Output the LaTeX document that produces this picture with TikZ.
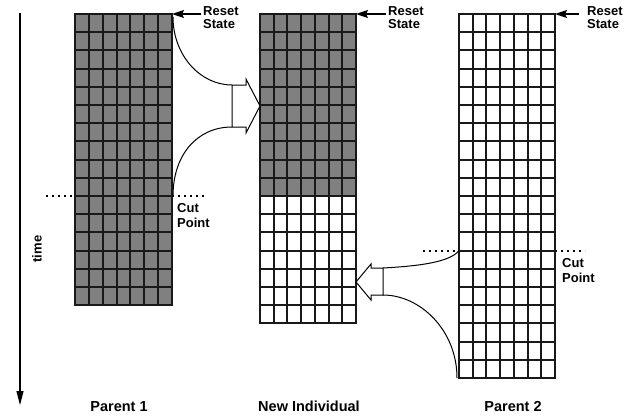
\documentclass[tikz,border=0pt]{standalone}
\usepackage{fontspec}
\setmainfont{Liberation Sans}
\usetikzlibrary{arrows.meta,calc}
\begin{document}
\begin{tikzpicture}[x=1pt,y=-1pt,
  lab/.style={font=\bfseries\fontsize{13}{13}\selectfont, inner sep=0pt, anchor=base west},
  bot/.style={font=\bfseries\fontsize{14.5}{14.5}\selectfont, inner sep=0pt, anchor=base},
  gl/.style={draw=black!90, line width=1.9pt, line cap=rect},
  cutline/.style={line width=2pt, dash pattern=on 2pt off 4pt},
  conn/.style={line width=1pt},
  blk/.style={draw, line width=1pt, fill=white, line join=miter},
  rarrow/.style={line width=1.2pt, -{Stealth[length=12pt,width=8pt,inset=2pt]}},
  panel/.style={inner sep=0pt, outer sep=0pt, draw=none},
]
\useasboundingbox (0,0) rectangle (639,418);

% panels (named frames of the three chromosomes)
\node[panel, minimum width=97pt, minimum height=291.2pt] (p1) at (123.5,159.6) {};
\node[panel, minimum width=96pt, minimum height=309.4pt] (ni) at (308,168.7) {};
\node[panel, minimum width=96pt, minimum height=364pt] (p2) at (507,196) {};

\coordinate (p1cut) at (172,196);
\coordinate (p2cut) at (459,250.6);

% cut lines
\draw[cutline] (46,196) -- (205,196);
\draw[cutline] (423,250.6) -- (585,250.6);

% fills
\fill[gray] (75,14) rectangle (172,305.2);
\fill[gray] (260,14) rectangle (356,196);
\fill[white] (260,196) rectangle (356,323.4);
\fill[white] (459,14) rectangle (555,378);

% grids
\foreach \xa/\xb/\n in {75/172/16, 260/356/17, 459/555/20} {
  \foreach \i in {0,...,7}
    \draw[gl] ({\xa+\i*(\xb-\xa)/7},14) -- ({\xa+\i*(\xb-\xa)/7},{14+\n*18.2});
  \foreach \j in {0,...,\n}
    \draw[gl] (\xa,{14+\j*18.2}) -- (\xb,{14+\j*18.2});
}

% block arrow Parent 1 -> New Individual
\coordinate (aTop) at (232,85);
\coordinate (aBot) at (232,127);
\draw[blk] (aTop) -- (246,85) -- (246,79) -- (260,106) -- (246,133) -- (246,127) -- (aBot) -- cycle;
\draw[conn] ($(p1.north east)+(1,3)$) .. controls (173,55) and (200,85) .. (aTop);
\draw[conn] ($(p1cut)+(1,0)$) .. controls (173,155) and (197,127) .. (aBot);

% block arrow Parent 2 -> New Individual
\coordinate (bTop) at (383,268);
\coordinate (bBot) at (383,295);
\draw[blk] (bTop) -- (371,268) -- (371,264) -- (356,282) -- (371,300) -- (371,295) -- (bBot) -- cycle;
\draw[conn] (bTop) .. controls (420,266) and (450,262) .. (p2cut);
\draw[conn] (bBot) .. controls (420,295) and (457,330) .. ($(p2.south west)+(-2,0)$);

% reset state arrows and labels
\draw[rarrow] (201,14) -- (p1.north east);
\draw[rarrow] (386,14) -- (ni.north east);
\draw[rarrow] (579,14) -- (p2.north east);
\node[lab] (r1a) at (203,15) {Reset};
\node[lab] (r1b) at (203,28) {State};
\node[lab] (r2a) at (388,15) {Reset};
\node[lab] (r2b) at (388,28) {State};
\node[lab] (r3a) at (587,15) {Reset};
\node[lab] (r3b) at (587,28) {State};

% cut point labels
\node[lab] (c1a) at (177,212.3) {Cut};
\node[lab] (c1b) at (177,227.3) {Point};
\node[lab] (c2a) at (562,267.3) {Cut};
\node[lab] (c2b) at (562,282.3) {Point};

% time axis
\coordinate (t0) at (20,13);
\coordinate (t1) at (20,405);
\draw[line width=1.1pt, -{Triangle[length=14pt,width=7pt]}] (t0) -- (t1);
\node[rotate=90, font=\bfseries\fontsize{13}{13}\selectfont, inner sep=0pt] (time) at (37,249) {time};

% bottom labels
\node[bot] (l1) at (119,411) {Parent 1};
\node[bot] (l2) at (309,411) {New Individual};
\node[bot] (l3) at (513,411) {Parent 2};
\end{tikzpicture}
\end{document}
